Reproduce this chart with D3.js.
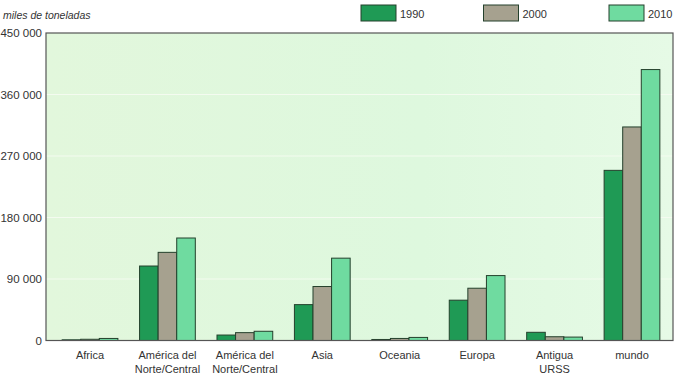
<!DOCTYPE html>
<html>
<head>
<meta charset="utf-8">
<script src="https://cdn.jsdelivr.net/npm/d3@7"></script>
<style>
  body { margin: 0; background: #fff; }
  text { font-family: "Liberation Sans", Arial, sans-serif; fill: #333; }
</style>
</head>
<body>
<svg id="chart" width="679" height="375"></svg>
<script>
// data (miles de toneladas)
const regions = ["Africa", "América del\nNorte/Central", "América del\nNorte/Central", "Asia", "Oceania", "Europa", "Antigua\nURSS", "mundo"];
const years = ["1990", "2000", "2010"];
const v1990 = [1000, 109000, 8000, 52500, 1500, 59000, 12000, 249000];
const v2000 = [1800, 129000, 11500, 79000, 3000, 76500, 5500, 312500];
const v2010 = [3000, 150000, 13500, 120500, 4500, 95000, 5000, 396500];
const yTicks = [0, 90000, 180000, 270000, 360000, 450000];
const colors = ["#1f9a55", "#a6a18f", "#6fdba0"];

const series = [v1990, v2000, v2010];

const svg = d3.select('#chart');
const plot = { left: 46, right: 673, top: 33, bottom: 340.5 };

// background with slight gradient
const defs = svg.append('defs');
const grad = defs.append('linearGradient').attr('id', 'bg').attr('x1', 0).attr('x2', 1);
grad.append('stop').attr('offset', '0%').attr('stop-color', '#e2f7dc');
grad.append('stop').attr('offset', '60%').attr('stop-color', '#def8de');
grad.append('stop').attr('offset', '100%').attr('stop-color', '#e6fae6');

svg.append('rect')
    .attr('x', plot.left).attr('y', plot.top)
    .attr('width', plot.right - plot.left).attr('height', plot.bottom - plot.top)
    .attr('fill', 'url(#bg)');

// scales
const x0 = d3.scaleBand().domain(d3.range(regions.length)).range([51.3, 670.7])
    .paddingInner(0.28).paddingOuter(0.14);
const x1 = d3.scaleBand().domain(years).range([0, x0.bandwidth()]);
const y = d3.scaleLinear().domain([0, 450000]).range([plot.bottom, plot.top]);

// gridlines
svg.append('g').selectAll('line').data(yTicks.slice(1, -1))
    .join('line')
    .attr('x1', plot.left).attr('x2', plot.right)
    .attr('y1', d => y(d)).attr('y2', d => y(d))
    .attr('stroke', '#f4fbf0').attr('stroke-width', 1.2);

// bars
const groups = svg.append('g').selectAll('g').data(regions)
    .join('g')
    .attr('transform', (d, i) => `translate(${x0(i)},0)`);

groups.selectAll('rect')
    .data((d, i) => years.map((yr, k) => ({ yr, k, v: series[k][i] })))
    .join('rect')
    .attr('x', d => x1(d.yr))
    .attr('y', d => y(d.v))
    .attr('width', x1.bandwidth())
    .attr('height', d => y(0) - y(d.v))
    .attr('fill', d => colors[d.k])
    .attr('stroke', '#24402c')
    .attr('stroke-width', 1);

// frame
svg.append('rect')
    .attr('x', plot.left).attr('y', plot.top)
    .attr('width', plot.right - plot.left).attr('height', plot.bottom - plot.top)
    .attr('fill', 'none').attr('stroke', '#555').attr('stroke-width', 1.2);

// y axis labels
const fmt = d => d3.format(',')(d).replace(/,/g, ' ');
svg.append('g').selectAll('text').data(yTicks)
    .join('text')
    .attr('x', 42).attr('y', d => y(d) + 4)
    .attr('text-anchor', 'end')
    .attr('font-size', 11.5)
    .text(fmt);

// category labels
const lab = svg.append('g').selectAll('text').data(regions)
    .join('text')
    .attr('text-anchor', 'middle')
    .attr('font-size', 11)
    .attr('transform', (d, i) => `translate(${x0(i) + x0.bandwidth() / 2},0)`);
lab.selectAll('tspan').data(d => d.split('\n'))
    .join('tspan')
    .attr('x', 0)
    .attr('y', (d, i) => 359 + i * 13.5)
    .text(d => d);

// title
svg.append('text')
    .attr('x', 3).attr('y', 19)
    .attr('font-size', 10.5)
    .attr('font-style', 'italic')
    .text('miles de toneladas');

// legend
const legX = [361, 483.5, 609];
const leg = svg.append('g').selectAll('g').data(years)
    .join('g')
    .attr('transform', (d, i) => `translate(${legX[i]},5)`);
leg.append('rect')
    .attr('width', 35).attr('height', 16)
    .attr('fill', (d, i) => colors[i])
    .attr('stroke', '#24402c');
leg.append('text')
    .attr('x', 39).attr('y', 12.5)
    .attr('font-size', 11)
    .text(d => d);
</script>
</body>
</html>
